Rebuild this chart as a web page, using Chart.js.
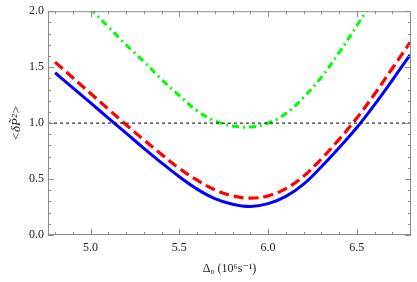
<!DOCTYPE html>
<html>
<head>
<meta charset="utf-8">
<script src="https://cdn.jsdelivr.net/npm/chart.js@4.4.1/dist/chart.umd.min.js"></script>
<style>
  html, body { margin: 0; padding: 0; background: #fff; }
  #wrap { width: 417px; height: 282px; }
</style>
</head>
<body>
<div id="wrap"><canvas id="grafico" width="417" height="282"></canvas></div>
<script>
// detuning values (10^6 s^-1)
const delta0 = [4.8, 4.9, 5.0, 5.1, 5.2, 5.3, 5.4, 5.5, 5.6, 5.7, 5.8,
                5.9, 6.0, 6.1, 6.2, 6.3, 6.4, 6.5, 6.6, 6.7, 6.8];

const azul = [1.45, 1.315, 1.18, 1.045, 0.91, 0.775, 0.645, 0.52, 0.41, 0.325, 0.275,
              0.255, 0.28, 0.345, 0.455, 0.61, 0.78, 0.96, 1.165, 1.385, 1.61];

const vermelho = [1.545, 1.405, 1.265, 1.125, 0.985, 0.85, 0.72, 0.595, 0.49, 0.405, 0.35,
                  0.33, 0.35, 0.415, 0.525, 0.68, 0.855, 1.045, 1.26, 1.49, 1.72];

const verde = [2.36, 2.18, 2.02, 1.86, 1.70, 1.55, 1.39, 1.245, 1.11, 1.02, 0.975,
               0.965, 1.0, 1.085, 1.23, 1.41, 1.63, 1.87, 2.12, 2.38, 2.64];

const linhaRef = [1.0, 1.0];
const xLimites = [4.76, 6.805];
const yLimites = [0, 2];
const ticksX = [5.0, 5.5, 6.0, 6.5];
const ticksY = [0.0, 0.5, 1.0, 1.5, 2.0];

const pontos = (ys) => delta0.map((x, i) => ({ x: x, y: ys[i] }));

const fonteSerif = '"Liberation Serif", "DejaVu Serif", serif';

// frame with inward ticks, Mathematica style
const moldura = {
  id: 'moldura',
  afterDraw(chart) {
    const c = chart.ctx;
    const a = chart.chartArea;
    const sx = chart.scales.x, sy = chart.scales.y;
    c.save();
    c.strokeStyle = '#8c8c8c';
    c.lineWidth = 1;
    c.strokeRect(a.left + 0.5, a.top + 0.5, a.right - a.left - 1, a.bottom - a.top - 1);
    c.beginPath();
    for (let i = 0; i <= 20; i++) {
      const v = 4.8 + i * 0.1;
      const px = Math.round(sx.getPixelForValue(v)) + 0.5;
      const major = Math.abs(v * 2 - Math.round(v * 2)) < 1e-6;
      const len = major ? 6 : 3;
      c.moveTo(px, a.bottom); c.lineTo(px, a.bottom - len);
      c.moveTo(px, a.top); c.lineTo(px, a.top + len);
    }
    for (let i = 0; i <= 20; i++) {
      const v = i * 0.1;
      const py = Math.round(sy.getPixelForValue(v)) + 0.5;
      const major = i % 5 === 0;
      const len = major ? 6 : 3;
      c.moveTo(a.left, py); c.lineTo(a.left + len, py);
      c.moveTo(a.right, py); c.lineTo(a.right - len, py);
    }
    c.stroke();
    c.restore();
  }
};

const grafico = new Chart(document.getElementById('grafico'), {
  type: 'line',
  data: {
    datasets: [
      {
        data: xLimites.map((x, i) => ({ x: x, y: linhaRef[i] })),
        borderColor: '#000',
        borderWidth: 1,
        borderDash: [3, 3],
        pointRadius: 0,
        tension: 0
      },
      {
        data: pontos(verde),
        borderColor: '#00ff00',
        borderWidth: 3,
        borderDash: [7, 4, 2, 4],
        pointRadius: 0,
        tension: 0.4
      },
      {
        data: pontos(vermelho),
        borderColor: '#ff0000',
        borderWidth: 3.2,
        borderDash: [10, 5],
        pointRadius: 0,
        tension: 0.4
      },
      {
        data: pontos(azul),
        borderColor: '#0000ff',
        borderWidth: 3,
        pointRadius: 0,
        tension: 0.4
      }
    ]
  },
  options: {
    responsive: false,
    animation: false,
    devicePixelRatio: 1,
    layout: { padding: { top: 7, right: 6, left: 0, bottom: 0 } },
    plugins: {
      legend: { display: false },
      tooltip: { enabled: false }
    },
    scales: {
      x: {
        type: 'linear',
        min: xLimites[0],
        max: xLimites[1],
        afterFit: (s) => { s.height = 47; },
        afterBuildTicks: (s) => { s.ticks = ticksX.map(v => ({ value: v })); },
        grid: { display: false, drawTicks: false },
        border: { display: false },
        ticks: {
          padding: 6,
          color: '#222',
          font: { family: fonteSerif, size: 12 },
          callback: (v) => Number(v).toFixed(1)
        },
        title: {
          display: true,
          text: 'Δ₀ (10⁶s⁻¹)',
          color: '#222',
          font: { family: fonteSerif, size: 12 },
          padding: { top: 0, bottom: 6 }
        }
      },
      y: {
        type: 'linear',
        min: yLimites[0],
        max: yLimites[1],
        afterFit: (s) => { s.width = 48; },
        afterBuildTicks: (s) => { s.ticks = ticksY.map(v => ({ value: v })); },
        grid: { display: false, drawTicks: false },
        border: { display: false },
        ticks: {
          padding: 4,
          color: '#222',
          font: { family: fonteSerif, size: 12 },
          callback: (v) => Number(v).toFixed(1)
        },
        title: {
          display: true,
          text: '<δP̃²>',
          color: '#222',
          font: { family: fonteSerif, size: 13, style: 'italic' },
          padding: { top: 9, bottom: 0 }
        }
      }
    }
  },
  plugins: [moldura]
});
</script>
</body>
</html>
